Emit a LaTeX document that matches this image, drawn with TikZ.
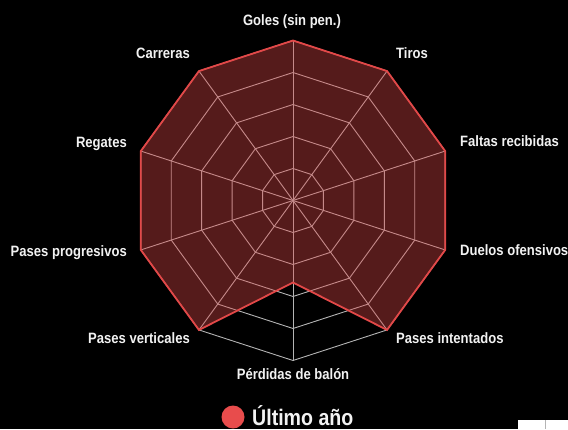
\documentclass[tikz,border=0pt]{standalone}
\usepackage{fontspec}
\setmainfont{Liberation Sans}[FakeStretch=0.87]
\definecolor{gridc}{HTML}{B4B4B4}
\definecolor{datac}{HTML}{E24848}
\definecolor{legc}{HTML}{E84C4C}
\definecolor{labc}{HTML}{F2F2F2}
\tikzset{
  gridline/.style={draw=gridc, line width=0.9pt},
  datashape/.style={fill=datac, fill opacity=0.38, draw=datac, draw opacity=1, line width=1.8pt, line join=miter},
  lab/.style={text=labc, font=\bfseries\fontsize{15}{17}\selectfont, inner sep=0pt},
  leglab/.style={text=labc, font=\bfseries\fontsize{22.5}{26}\selectfont, inner sep=0pt}
}
\begin{document}
\begin{tikzpicture}[x=1pt,y=-1pt]
\useasboundingbox[fill=black] (0,0) rectangle (568,429);
\begin{scope}[shift={(293,200.5)}]
  \foreach \r in {32,64,96,128,160}{
    \draw[gridline] (-90:\r) \foreach \k in {1,...,9}{ -- ({-90+36*\k}:\r)} -- cycle;
  }
  \foreach \k in {0,...,9}{
    \draw[gridline] (0,0) -- ({-90+36*\k}:160);
  }
  \path[datashape] (-90:160) -- (-54:160) -- (-18:160) -- (18:160) -- (54:160)
     -- (90:82) -- (126:160) -- (162:160) -- (198:160) -- (234:160) -- cycle;
\end{scope}
\node[lab, anchor=base] (goles) at (292,25.5) {Goles (sin pen.)};
\node[lab, anchor=base] (carreras) at (163,58.5) {Carreras};
\node[lab, anchor=base] (tiros) at (412,58.5) {Tiros};
\node[lab, anchor=base east] (regates) at (127,147.5) {Regates};
\node[lab, anchor=base west] (faltas) at (460,146.5) {Faltas recibidas};
\node[lab, anchor=base east] (progresivos) at (127,256.5) {Pases progresivos};
\node[lab, anchor=base west] (duelos) at (460,255.5) {Duelos ofensivos};
\node[lab, anchor=base east] (verticales) at (190,343.5) {Pases verticales};
\node[lab, anchor=base west] (intentados) at (396,343.5) {Pases intentados};
\node[lab, anchor=base] (perdidas) at (293,379.5) {Pérdidas de balón};
\fill[legc] (233,417) circle[radius=11.5];
\node[leglab, anchor=base west] (legend) at (252,425.5) {Último año};
\fill[white] (518,420) rectangle (568,429);
\draw[gridc, line width=1pt] (545,420) -- (545,429);
\end{tikzpicture}
\end{document}
